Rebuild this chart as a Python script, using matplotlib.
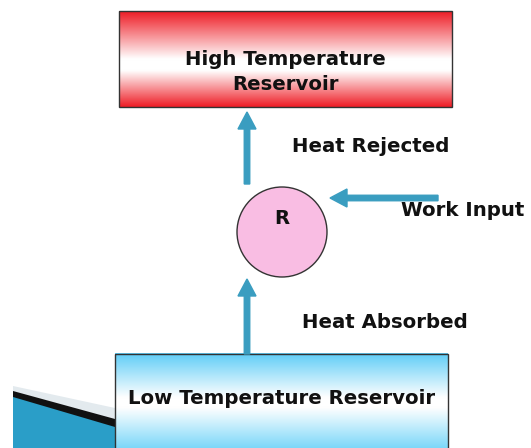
import numpy as np
import matplotlib.pyplot as plt
from matplotlib.patches import Rectangle, Circle, FancyArrow, Polygon
from matplotlib.colors import LinearSegmentedColormap

# diagram labels
reservoir_labels = ["High Temperature\nReservoir", "Low Temperature Reservoir"]
flow_labels = ["Heat Rejected", "Work Input", "Heat Absorbed"]
device_label = "R"

W, H = 531, 448
fig = plt.figure(figsize=(W / 100, H / 100), dpi=100)
ax = fig.add_axes([0, 0, 1, 1])
ax.set_xlim(0, W)
ax.set_ylim(H, 0)
ax.axis('off')
fig.patch.set_facecolor('white')

arrow_col = '#3a9dc0'
fs = 14.2
font = dict(family='DejaVu Sans', weight='bold', color='#111111', fontsize=fs, zorder=4)


def gradient_box(x0, x1, y0, y1, colours, stops):
    cmap = LinearSegmentedColormap.from_list('g', list(zip(stops, colours)))
    grad = np.linspace(0, 1, 256).reshape(-1, 1)
    ax.imshow(grad, cmap=cmap, aspect='auto', extent=(x0, x1, y1, y0),
              zorder=2, interpolation='bicubic')
    ax.add_patch(Rectangle((x0, y0), x1 - x0, y1 - y0, fill=False,
                           ec='#333333', lw=1.0, zorder=3))


# swoosh in the bottom-left corner
ax.add_patch(Polygon([[13, 386], [115, 408], [115, 448], [13, 448]],
                     closed=True, fc='#e3eaee', ec='none', zorder=1))
ax.add_patch(Polygon([[13, 391], [115, 419], [115, 448], [13, 448]],
                     closed=True, fc='#111111', ec='none', zorder=1))
ax.add_patch(Polygon([[13, 397], [115, 427], [115, 448], [13, 448]],
                     closed=True, fc='#2a9ec8', ec='none', zorder=1))

# reservoirs
gradient_box(119, 452, 11, 107, ['#ee1c25', '#ffffff', '#ffffff', '#ee1c25'],
             [0.0, 0.5, 0.62, 1.0])
gradient_box(115, 448, 354, 452, ['#5fcdf7', '#ffffff', '#ffffff', '#6fd3f8'],
             [0.0, 0.45, 0.55, 1.0])
ax.set_xlim(0, W)
ax.set_ylim(H, 0)

ax.text(285, 72, reservoir_labels[0], ha='center', va='center',
        linespacing=1.45, **font)
ax.text(282, 398, reservoir_labels[1], ha='center', va='center', **font)

# device
ax.add_patch(Circle((282, 232), 45, fc='#f9bde3', ec='#333333', lw=1.0, zorder=3))
ax.text(282, 219, device_label, ha='center', va='center', **font)

# arrows
arr = dict(width=5.5, head_width=18, head_length=17, length_includes_head=True,
           fc=arrow_col, ec=arrow_col, zorder=3)
ax.add_patch(FancyArrow(247, 184, 0, -72, **arr))
ax.add_patch(FancyArrow(247, 354, 0, -75, **arr))
ax.add_patch(FancyArrow(438, 198, -108, 0, **arr))

ax.text(292, 147, flow_labels[0], ha='left', va='center', **font)
ax.text(401, 211, flow_labels[1], ha='left', va='center', **font)
ax.text(302, 322, flow_labels[2], ha='left', va='center', **font)

fig.savefig('out.png', dpi=100, facecolor='white')
